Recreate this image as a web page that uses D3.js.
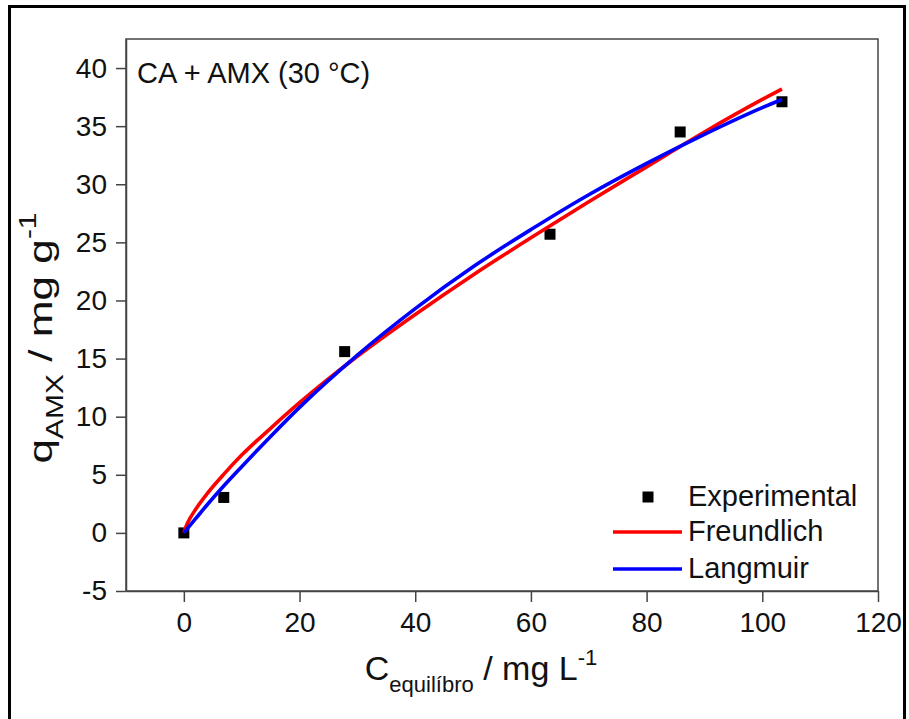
<!DOCTYPE html>
<html>
<head>
<meta charset="utf-8">
<script src="https://cdn.jsdelivr.net/npm/d3@7"></script>
<style>
	body { margin: 0; background: #fff; }
	svg text { font-family: "Liberation Sans", Arial, sans-serif; fill: #111; }
</style>
</head>
<body>
<svg id="chart" width="909" height="719"></svg>
<script>
// measured points
var expC = [0, 6.9, 27.8, 63.3, 85.8, 103.4];
var expQ = [0, 3.05, 15.6, 25.7, 34.5, 37.1];

// fitted curves at these concentrations
var fitC = [0, 0.5, 1, 2, 4, 7, 10, 15, 20, 30, 40, 50, 60, 70, 80, 90, 100, 103.4];
var freundlich = [0, 0.71, 1.2, 2.0, 3.36, 5.1, 6.7, 9.0, 11.2, 15.2, 18.8, 22.2, 25.4, 28.5, 31.5, 34.5, 37.3, 38.2];
var langmuir = [0, 0.3, 0.6, 1.2, 2.4, 4.1, 5.7, 8.3, 10.8, 15.3, 19.3, 22.9, 26.1, 29.1, 31.8, 34.3, 36.6, 37.3];

var xTicks = [0, 20, 40, 60, 80, 100, 120];
var yTicks = [-5, 0, 5, 10, 15, 20, 25, 30, 35, 40];

var legendItems = [
	{ name: "Experimental", kind: "square", color: "#000" },
	{ name: "Freundlich", kind: "line", color: "#ff0000" },
	{ name: "Langmuir", kind: "line", color: "#0000ff" }
];

var svg = d3.select("#chart");
var plotLeft = 126, plotRight = 878, plotTop = 39, plotBottom = 591;

var x = d3.scaleLinear().domain([-10, 120]).range([plotLeft, plotRight]);
var y = d3.scaleLinear().domain([-5, 42.5]).range([plotBottom, plotTop]);

// plain hyphen for negatives, like the original
var fmt = function (d) { return String(d) };

// outer frame of the figure
svg.append("rect")
    .attr("x", 9.5).attr("y", 6.5)
    .attr("width", 895).attr("height", 730)
    .style("fill", "none")
    .style("stroke", "#000")
    .style("stroke-width", 3);

// plot box
svg.append("rect")
    .attr("x", plotLeft).attr("y", plotTop)
    .attr("width", plotRight - plotLeft).attr("height", plotBottom - plotTop)
    .style("fill", "none")
    .style("stroke", "#444")
    .style("stroke-width", 1.5);

var xAxis = svg.append("g")
    .attr("transform", "translate(0," + plotBottom + ")")
    .call(d3.axisBottom(x).tickValues(xTicks).tickFormat(fmt).tickSize(11).tickPadding(10).tickSizeOuter(0));
var yAxis = svg.append("g")
    .attr("transform", "translate(" + plotLeft + ",0)")
    .call(d3.axisLeft(y).tickValues(yTicks).tickFormat(fmt).tickSize(10).tickPadding(9).tickSizeOuter(0));

[xAxis, yAxis].forEach(function (ax) {
	ax.select(".domain").style("stroke", "#444").style("stroke-width", 1.5);
	ax.selectAll(".tick line").style("stroke", "#444").style("stroke-width", 1.5);
	ax.selectAll(".tick text")
	    .style("font-family", "'Liberation Sans', Arial, sans-serif")
	    .style("font-size", "28px")
	    .style("fill", "#111");
});

// experimental squares
svg.append("g").selectAll("rect")
    .data(expC)
  .enter()
  .append("rect")
    .attr("x", function (d) { return x(d) - 5.5 })
    .attr("y", function (d, i) { return y(expQ[i]) - 5.5 })
    .attr("width", 11)
    .attr("height", 11)
    .style("fill", "#000");

var line = function (vals) {
	return d3.line()
	    .x(function (d) { return x(d) })
	    .y(function (d, i) { return y(vals[i]) })
	    .curve(d3.curveMonotoneX)(fitC);
};

svg.append("path")
    .attr("d", line(freundlich))
    .style("fill", "none")
    .style("stroke", "#ff0000")
    .style("stroke-width", 3.6);
svg.append("path")
    .attr("d", line(langmuir))
    .style("fill", "none")
    .style("stroke", "#0000ff")
    .style("stroke-width", 3.6);

// annotation
svg.append("text")
    .attr("x", 137).attr("y", 83)
    .style("font-size", "29px")
    .text("CA + AMX (30 °C)");

// legend
var legend = svg.append("g").selectAll("g")
    .data(legendItems)
  .enter()
  .append("g")
    .attr("transform", function (d, i) { return "translate(0," + [497, 532, 569][i] + ")" });
legend.each(function (d) {
	var g = d3.select(this);
	if (d.kind === "square") {
		g.append("rect").attr("x", 642.5).attr("y", -5.5).attr("width", 11).attr("height", 11).style("fill", d.color);
	} else {
		g.append("line").attr("x1", 613).attr("x2", 682).attr("y1", 0).attr("y2", 0)
		    .style("stroke", d.color).style("stroke-width", 3.6);
	}
	g.append("text")
	    .attr("x", 688).attr("y", 9)
	    .style("font-size", "29px")
	    .text(d.name);
});

// x axis title
var xt = svg.append("text")
    .attr("x", 481).attr("y", 680)
    .attr("text-anchor", "middle")
    .style("font-size", "34px");
xt.append("tspan").text("C");
xt.append("tspan").attr("dy", 12).style("font-size", "22px").text("equilíbro");
xt.append("tspan").attr("dy", -12).text(" / mg L");
xt.append("tspan").attr("dy", -15).style("font-size", "22px").text("-1");

// y axis title (stretched along its length, as in the original)
var yt = svg.append("text")
    .attr("transform", "translate(52,338) rotate(-90) scale(1.3,1)")
    .attr("text-anchor", "middle")
    .style("font-size", "34px");
yt.append("tspan").text("q");
yt.append("tspan").attr("dy", 11).style("font-size", "23px").text("AMX");
yt.append("tspan").attr("dy", -11).text(" / mg g");
yt.append("tspan").attr("dy", -16).style("font-size", "23px").text("-1");
</script>
</body>
</html>
